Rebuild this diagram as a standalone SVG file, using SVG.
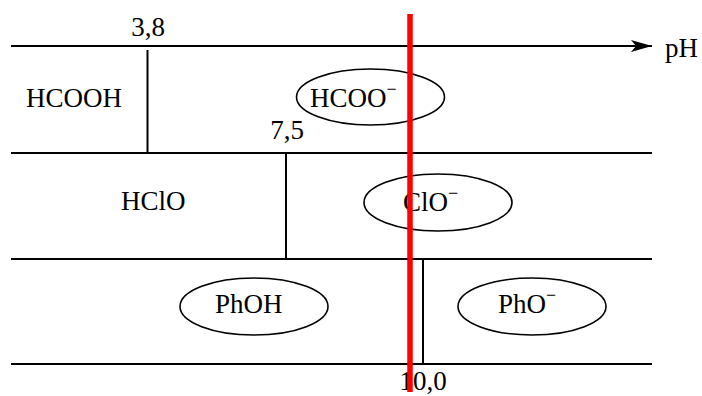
<svg xmlns="http://www.w3.org/2000/svg" width="702" height="396" viewBox="0 0 702 396">
  <style>
    text { font-family: "Liberation Serif", "DejaVu Serif", serif; font-size: 27px; fill: #000; }
    .sup { font-size: 18px; }
    .line { stroke: #000; stroke-width: 2; fill: none; }
    .ell { stroke: #000; stroke-width: 1.6; fill: none; }
    .red { stroke: #ff0000; stroke-width: 5.5; }
  </style>
  <defs>
    <marker id="arrow" markerUnits="userSpaceOnUse" markerWidth="22" markerHeight="14" refX="21" refY="7" orient="auto">
      <polygon points="0,1 21,7 0,13 5,7" fill="#000"/>
    </marker>
  </defs>
  <rect width="702" height="396" fill="#fff"/>
  <g id="connectors">
    <line class="line" x1="11" y1="46" x2="652" y2="46" marker-end="url(#arrow)"/>
    <line class="line" x1="11" y1="153" x2="652" y2="153"/>
    <line class="line" x1="11" y1="259" x2="652" y2="259"/>
    <line class="line" x1="11" y1="364" x2="652" y2="364"/>
    <line class="line" x1="147.5" y1="50" x2="147.5" y2="153"/>
    <line class="line" x1="286" y1="153" x2="286" y2="259"/>
    <line class="line" x1="423" y1="259" x2="423" y2="364"/>
  </g>
  <g id="label-ph"><text x="665" y="57">pH</text></g>
  <g id="label-38"><text x="148" y="36" text-anchor="middle">3,8</text></g>
  <g id="label-75"><text x="287" y="139" text-anchor="middle">7,5</text></g>
  <g id="label-100"><text x="423" y="390" text-anchor="middle">10,0</text></g>
  <g id="node-hcooh"><text x="26" y="107">HCOOH</text></g>
  <g id="node-hcoo">
    <ellipse class="ell" cx="370.5" cy="97" rx="74" ry="28"/>
    <text x="310" y="107">HCOO<tspan class="sup" dy="-12">−</tspan></text>
  </g>
  <g id="node-hclo"><text x="121" y="210">HClO</text></g>
  <g id="node-clo">
    <ellipse class="ell" cx="438" cy="202.5" rx="74" ry="28.5"/>
    <text x="403" y="211">ClO<tspan class="sup" dy="-12">−</tspan></text>
  </g>
  <g id="node-phoh">
    <ellipse class="ell" cx="254" cy="306.5" rx="74" ry="28.5"/>
    <text x="215" y="313">PhOH</text>
  </g>
  <g id="node-pho">
    <ellipse class="ell" cx="532" cy="306.5" rx="74" ry="28.5"/>
    <text x="498" y="313">PhO<tspan class="sup" dy="-12">−</tspan></text>
  </g>
  <g id="marker-ph">
    <line class="red" x1="410" y1="14" x2="410" y2="392"/>
  </g>
</svg>
